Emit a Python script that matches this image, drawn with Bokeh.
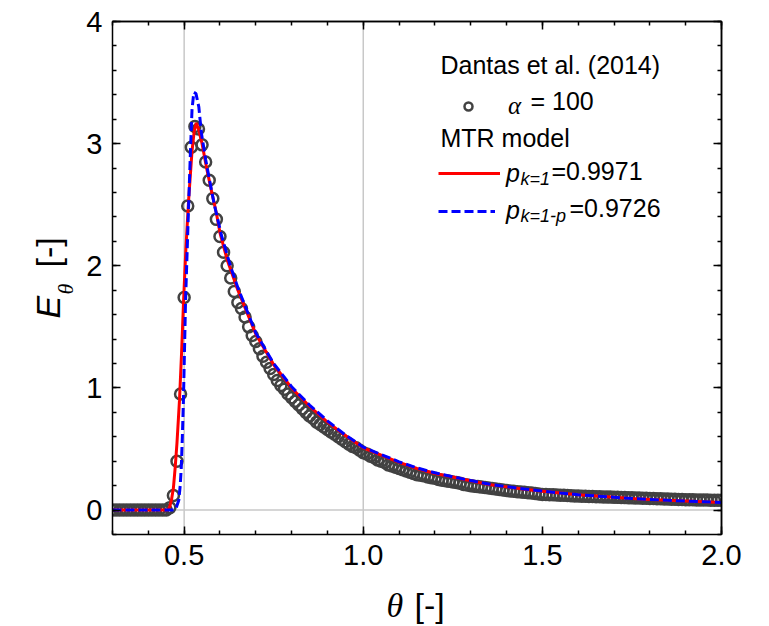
import math
from bokeh.plotting import figure
from bokeh.models import (Range1d, FixedTicker, LinearAxis, Label, Legend,
                          LegendItem, NumeralTickFormatter)
from bokeh.embed import file_html
from bokeh.resources import INLINE

# ---------------- data ----------------
# Dantas et al. (2014), alpha = 100 : sampled every 0.01 in theta from 0.30 to 2.00
dantas_theta = [round(0.30 + 0.01 * i, 2) for i in range(171)]
dantas_E = (
    [0.0] * 16 +                                   # 0.30 .. 0.45
    [0.02, 0.12, 0.40, 0.95, 1.74, 2.49, 2.97, 3.14, 3.12, 2.99,   # 0.46 .. 0.55
     2.85, 2.70, 2.55, 2.38, 2.24, 2.11, 2.00, 1.90, 1.79, 1.70,   # 0.56 .. 0.65
     1.65, 1.58, 1.50, 1.43, 1.38, 1.32, 1.26, 1.21, 1.16, 1.11,   # 0.66 .. 0.75
     1.06, 1.02, 0.99, 0.95, 0.92, 0.89, 0.86, 0.83, 0.80, 0.77,   # 0.76 .. 0.85
     0.75, 0.72, 0.70, 0.68, 0.66, 0.64, 0.62, 0.60, 0.58, 0.56,   # 0.86 .. 0.95
     0.54, 0.52, 0.51, 0.49, 0.47, 0.46, 0.44, 0.43, 0.41, 0.40,   # 0.96 .. 1.05
     0.39, 0.37, 0.36, 0.35, 0.34, 0.33, 0.32, 0.31, 0.30, 0.29,   # 1.06 .. 1.15
     0.285, 0.28, 0.27, 0.265, 0.26, 0.25, 0.245, 0.24, 0.235, 0.23,  # 1.16 .. 1.25
     0.225, 0.22, 0.21, 0.205, 0.20, 0.196, 0.192, 0.188, 0.184, 0.18,  # 1.26 .. 1.35
     0.176, 0.172, 0.168, 0.164, 0.16, 0.157, 0.154, 0.151, 0.148, 0.145,  # 1.36 .. 1.45
     0.142, 0.139, 0.136, 0.132, 0.128, 0.127, 0.126, 0.125, 0.124, 0.122,  # 1.46 .. 1.55
     0.121, 0.119, 0.118, 0.116, 0.115, 0.114, 0.113, 0.112, 0.111, 0.110,  # 1.56 .. 1.65
     0.109, 0.108, 0.107, 0.106, 0.105, 0.104, 0.103, 0.102, 0.101, 0.100,  # 1.66 .. 1.75
     0.099, 0.098, 0.097, 0.096, 0.095, 0.094, 0.093, 0.092, 0.091, 0.090,  # 1.76 .. 1.85
     0.089, 0.088, 0.087, 0.086, 0.085, 0.085, 0.084, 0.083, 0.083, 0.082,  # 1.86 .. 1.95
     0.082, 0.081, 0.081, 0.080, 0.080]                                    # 1.96 .. 2.00
)

# MTR model, p_{k=1} = 0.9971
red_theta = [0.30, 0.455, 0.46, 0.465, 0.47, 0.475, 0.48, 0.487, 0.493, 0.4985,
             0.505, 0.5125, 0.522, 0.528, 0.534, 0.54, 0.55, 0.562, 0.575, 0.59,
             0.60, 0.62, 0.65, 0.70, 0.75, 0.80, 0.85, 0.90, 0.95, 1.00,
             1.05, 1.10, 1.15, 1.20, 1.25, 1.30, 1.35, 1.40, 1.45, 1.50,
             1.55, 1.60, 1.65, 1.70, 1.75, 1.80, 1.85, 1.90, 1.95, 2.00]
red_E = [0.0, 0.0, 0.03, 0.09, 0.18, 0.35, 0.55, 0.90, 1.30, 1.72,
         2.15, 2.54, 2.94, 3.10, 3.17, 3.12, 3.00, 2.81, 2.63, 2.43,
         2.27, 2.05, 1.80, 1.44, 1.19, 1.00, 0.85, 0.72, 0.61, 0.51,
         0.45, 0.39, 0.34, 0.30, 0.27, 0.24, 0.21, 0.19, 0.17, 0.155,
         0.14, 0.125, 0.115, 0.105, 0.095, 0.087, 0.08, 0.074, 0.068, 0.062]

# MTR model, p_{k=1-p} = 0.9726
blue_theta = [0.30, 0.472, 0.478, 0.485, 0.489, 0.492, 0.495, 0.498, 0.504, 0.513,
              0.518, 0.522, 0.527, 0.533, 0.541, 0.548, 0.56, 0.571, 0.585, 0.604,
              0.63, 0.65, 0.70, 0.75, 0.80, 0.85, 0.90, 0.95, 1.00, 1.05,
              1.10, 1.15, 1.20, 1.25, 1.30, 1.35, 1.40, 1.45, 1.50, 1.55,
              1.60, 1.65, 1.70, 1.75, 1.80, 1.85, 1.90, 1.95, 2.00]
blue_E = [0.0, 0.0, 0.02, 0.08, 0.20, 0.35, 0.60, 0.90, 1.72, 2.54,
          2.97, 3.28, 3.42, 3.41, 3.30, 3.09, 2.87, 2.70, 2.49, 2.25,
          1.99, 1.82, 1.45, 1.20, 1.01, 0.86, 0.73, 0.615, 0.515, 0.455,
          0.395, 0.345, 0.305, 0.272, 0.242, 0.213, 0.192, 0.172, 0.156, 0.14,
          0.126, 0.115, 0.105, 0.095, 0.087, 0.08, 0.074, 0.068, 0.062]

x_major = [0.5, 1.0, 1.5, 2.0]
x_minor = [round(0.3 + 0.1 * i, 1) for i in range(18)]
y_major = [0, 1, 2, 3, 4]
y_minor = [round(-0.2 + 0.2 * i, 1) for i in range(22)]
ref_x = [0.5, 1.0]
ref_y = [0.0]
X_LIM = (0.3, 2.0)
Y_LIM = (-0.2, 4.0)

# ---------------- layout ----------------
W, H = 769, 626
FL, FR, FT, FB = 112, 721, 21, 534          # visible plot box, canvas px
sx = (X_LIM[1] - X_LIM[0]) / (FR - FL)
sy = (Y_LIM[1] - Y_LIM[0]) / (FB - FT)
X0, X1 = X_LIM[0] - FL * sx, X_LIM[1] + (W - FR) * sx
Y0, Y1 = Y_LIM[0] - (H - FB) * sy, Y_LIM[1] + FT * sy

def fx(px):
    return X0 + px * sx

def fy(py):
    return Y1 - py * sy

SANS = "Liberation Sans"
SERIF = "Liberation Serif"

p = figure(width=W, height=H, output_backend="svg", toolbar_location=None,
           x_range=Range1d(X0, X1), y_range=Range1d(Y0, Y1),
           x_axis_location=None, y_axis_location=None,
           min_border=0, min_border_left=0, min_border_right=0,
           min_border_top=0, min_border_bottom=0)
p.background_fill_color = "white"
p.border_fill_color = "white"
p.outline_line_color = None
p.grid.visible = False


def style(ax, size=8):
    ax.axis_line_color = "black"
    ax.axis_line_width = 1.5
    ax.major_tick_in = size
    ax.major_tick_out = 0
    ax.minor_tick_in = size
    ax.minor_tick_out = 0
    ax.major_tick_line_color = "black"
    ax.minor_tick_line_color = "black"
    ax.major_tick_line_width = 1.5
    ax.minor_tick_line_width = 1.5
    ax.major_label_text_font = SANS
    ax.major_label_text_color = "black"
    ax.major_label_text_font_size = "29px"
    return ax

# bottom / left axes with labels
xb = style(LinearAxis(fixed_location=Y_LIM[0], bounds=X_LIM,
                      ticker=FixedTicker(ticks=x_major, minor_ticks=x_minor),
                      formatter=NumeralTickFormatter(format="0.0")))
xb.minor_tick_in = 4
xb.major_label_standoff = 10
p.add_layout(xb, "below")

yl = style(LinearAxis(fixed_location=X_LIM[0], bounds=Y_LIM,
                      ticker=FixedTicker(ticks=y_major, minor_ticks=y_minor),
                      formatter=NumeralTickFormatter(format="0")))
yl.minor_tick_in = 4
yl.major_label_standoff = 10
p.add_layout(yl, "left")

# top / right mirror axes (ticks only)
for ticks, ln in ((x_major, 8), (x_minor, 4)):
    p.add_layout(style(LinearAxis(fixed_location=Y_LIM[1], bounds=X_LIM,
                                  ticker=FixedTicker(ticks=[], minor_ticks=ticks)), ln),
                 "above")
for ticks, ln in ((y_major, 8), (y_minor, 4)):
    p.add_layout(style(LinearAxis(fixed_location=X_LIM[1], bounds=Y_LIM,
                                  ticker=FixedTicker(ticks=[], minor_ticks=ticks)), ln),
                 "right")

# light reference lines
p.segment(x0=ref_x, y0=[Y_LIM[0]] * len(ref_x), x1=ref_x, y1=[Y_LIM[1]] * len(ref_x),
          line_color="#c8c8c8", line_width=1.5)
p.segment(x0=[X_LIM[0]] * len(ref_y), y0=ref_y, x1=[X_LIM[1]] * len(ref_y), y1=ref_y,
          line_color="#c8c8c8", line_width=1.5)

circ = p.scatter(dantas_theta, dantas_E, marker="circle", size=11,
                 fill_color=None, line_color="#424242", line_width=2.5)
red = p.line(red_theta, red_E, line_color="#ff0000", line_width=3)
blue = p.line(blue_theta, blue_E, line_color="#0000ff", line_width=3,
              line_dash="9 4")

# white margins so that markers are cut at the plot box like in the original
MASK = 10
p.quad(left=[X_LIM[0] - MASK * sx, X_LIM[1]], right=[X_LIM[0], X_LIM[1] + MASK * sx],
       bottom=[Y_LIM[0]] * 2, top=[Y_LIM[1]] * 2,
       fill_color="white", line_color=None)

# ---------------- legend ----------------
GH, LH = 24, 32
def legend_item(r, label, font, left_px, cy_px, gw, standoff):
    lg = Legend(items=[LegendItem(label=label, renderers=[r])],
                location=(left_px, H - (cy_px - GH / 2 + LH)),
                glyph_width=gw, glyph_height=GH, padding=0, margin=0,
                spacing=0, label_standoff=standoff, label_width=0, label_height=LH,
                label_text_font=font, label_text_font_style="italic",
                label_text_font_size="25px", label_text_color="black",
                border_line_color=None, background_fill_alpha=0)
    p.add_layout(lg)

legend_item(circ, "α", SERIF, 458, 101.7, 20, 30)
legend_item(red, "p", SANS, 438, 169.3, 62, 6)
legend_item(blue, "p", SANS, 438, 206.7, 57, 11)


def txt(s, px, py, size, font=SANS, style="normal", angle=0.0):
    # Bokeh draws "alphabetic" labels ~0.36 em lower than asked: compensate
    shift = 0.36 * size
    if angle:
        px -= shift
    else:
        py -= shift
    p.add_layout(Label(x=fx(px), y=fy(py), text=s, text_font=font,
                       text_font_size=f"{size}px", text_font_style=style,
                       text_color="black", text_align="left",
                       text_baseline="alphabetic", angle=angle))

# legend texts
txt("Dantas et al. (2014)", 440, 73, 25)
txt("= 100", 530, 109, 25)
txt("MTR model", 440, 146, 25)
txt("k=1", 520, 185, 18, SANS, "italic")
txt("=0.9971", 551, 179, 25)
txt("k=1-p", 520, 222, 18, SANS, "italic")
txt("=0.9726", 569, 216.7, 25)

# axis titles
txt("θ", 386, 617, 34, SERIF, "italic")
txt("[-]", 414, 617, 34)
txt("E", 60, 318, 34, SANS, "italic", math.pi / 2)
txt("θ", 73, 294, 22, SERIF, "italic", math.pi / 2)
txt("[-]", 60, 267, 34, SANS, "normal", math.pi / 2)

open("out.html", "w").write(file_html(p, INLINE))
